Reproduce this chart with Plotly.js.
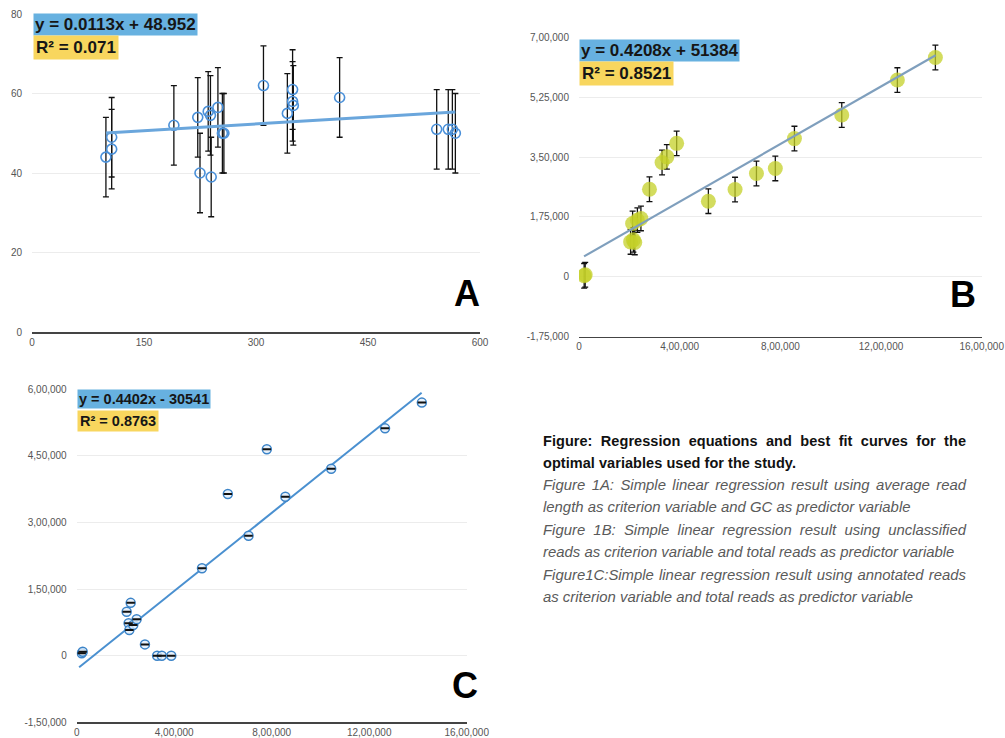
<!DOCTYPE html>
<html>
<head>
<meta charset="utf-8">
<script src="https://cdn.plot.ly/plotly-3.0.1.min.js"></script>
<style>
  html, body { margin: 0; padding: 0; background: #fff; }
  #chart { position: absolute; left: 0; top: 0; width: 1005px; height: 738px; }
  #caption { position: absolute; left: 543px; top: 430px; width: 423px; font-family: "Liberation Sans", Arial, sans-serif; }
  #caption div { white-space: nowrap; text-align: left; }
  #caption .j { text-align: justify; text-align-last: justify; }
  #caption .head { font-weight: bold; font-size: 14.5px; line-height: 22px; color: #111; letter-spacing: 0.05px; }
  #caption .it { font-style: italic; font-size: 14.9px; line-height: 22.4px; color: #5a5a5a; letter-spacing: 0px; }
</style>
</head>
<body>
<div id="chart"></div>
<div id="caption">
  <div class="head j">Figure: Regression equations and best fit curves for the</div>
  <div class="head">optimal variables used for the study.</div>
  <div class="it j">Figure 1A: Simple linear regression result using average read</div>
  <div class="it">length as criterion variable and GC as predictor variable</div>
  <div class="it j">Figure 1B: Simple linear regression result using unclassified</div>
  <div class="it">reads as criterion variable and total reads as predictor variable</div>
  <div class="it j">Figure1C:Simple linear regression result using annotated reads</div>
  <div class="it">as criterion variable and total reads as predictor variable</div>
</div>
<script>
// ---------- Panel A data ----------
const gcA  = [99, 106.7, 106.7, 190, 222, 225, 236, 239, 240, 249, 255, 257, 310, 342, 349, 349, 350, 412, 542, 557.5, 563, 567];
const lenA = [44, 49, 46, 52, 54, 40, 55.5, 54.5, 39, 56.5, 50, 50, 62, 55, 61, 58, 57, 59, 51, 51, 51, 50];
const errA = 10;
const trendAx = [99, 567];
const trendAy = [50.07, 55.36];
const ticksAx = [0, 150, 300, 450, 600];
const ticksAy = [0, 20, 40, 60, 80];

// ---------- Panels B & C data (shared total reads) ----------
const totalReads = [20500, 24600, 205000, 213000, 216000, 221500, 232000, 246000, 280000, 330000, 349000, 388000, 514000, 620000, 705000, 780000, 856000, 1044000, 1265000, 1416000];
const unclassB = [3000, 6000, 102000, 156000, 108000, 100500, 165600, 170600, 256000, 334000, 350600, 390000, 221000, 255000, 302000, 316700, 404000, 473000, 575000, 641000];
const errB = 36000;
const trendBx = [20000, 1417000];
const trendBy = [59800, 647700];
const annotC = [5300, 9000, 99000, 73000, 58000, 119000, 69000, 82000, 25500, 0, 0, 0, 197000, 364000, 270000, 465000, 358000, 421000, 512000, 570000];
const trendCx = [10000, 1415000];
const trendCy = [-26100, 592300];

const ticksBCx = [0, 400000, 800000, 1200000, 1600000];
const ticksBCxText = ['0', '4,00,000', '8,00,000', '12,00,000', '16,00,000'];
const ticksBy = [-175000, 0, 175000, 350000, 525000, 700000];
const ticksByText = ['-1,75,000', '0', '1,75,000', '3,50,000', '5,25,000', '7,00,000'];
const ticksCy = [-150000, 0, 150000, 300000, 450000, 600000];
const ticksCyText = ['-1,50,000', '0', '1,50,000', '3,00,000', '4,50,000', '6,00,000'];

// ---------- Equation labels ----------
const eqText = ['y = 0.0113x + 48.952', 'y = 0.4208x + 51384', 'y = 0.4402x - 30541'];
const r2Text = ['R² = 0.071', 'R² = 0.8521', 'R² = 0.8763'];
const panelLetters = ['A', 'B', 'C'];

const W = 1005, H = 738;
const px = v => v / W;
const py = v => 1 - v / H;
const FONT = '"Liberation Sans", Arial, sans-serif';

const traces = [
  {
    x: gcA, y: lenA, xaxis: 'x', yaxis: 'y', type: 'scatter', mode: 'markers',
    marker: { symbol: 'circle-open', size: 10, color: '#4a90d9', line: { width: 1.6, color: '#4a90d9' } },
    error_y: { type: 'constant', value: errA, color: '#111', thickness: 1.3, width: 3 }
  },
  {
    x: trendAx, y: trendAy, xaxis: 'x', yaxis: 'y', type: 'scatter', mode: 'lines',
    line: { color: '#6aa6dc', width: 3 }
  },
  {
    x: totalReads, y: unclassB, xaxis: 'x2', yaxis: 'y2', type: 'scatter', mode: 'markers',
    marker: { symbol: 'circle', size: 15, color: 'rgba(196,208,40,0.75)', line: { width: 0 } },
    error_y: { type: 'constant', value: errB, color: '#111', thickness: 1.3, width: 3 }
  },
  {
    x: trendBx, y: trendBy, xaxis: 'x2', yaxis: 'y2', type: 'scatter', mode: 'lines',
    line: { color: '#7f9fbd', width: 2.2 }
  },
  {
    x: trendCx, y: trendCy, xaxis: 'x3', yaxis: 'y3', type: 'scatter', mode: 'lines',
    line: { color: '#4a90d0', width: 2 }
  },
  {
    x: totalReads, y: annotC, xaxis: 'x3', yaxis: 'y3', type: 'scatter', mode: 'markers',
    marker: { symbol: 'circle', size: 9, color: 'rgba(225,238,250,0.8)', line: { width: 1.5, color: '#3c84c8' } }
  },
  {
    x: totalReads, y: annotC, xaxis: 'x3', yaxis: 'y3', type: 'scatter', mode: 'markers',
    marker: { symbol: 'line-ew', size: 6, line: { width: 2, color: '#111' } }
  }
];

const xBase = {
  showgrid: false, zeroline: false, showline: true, linecolor: '#444', linewidth: 1.5,
  ticks: '', tickfont: { family: FONT, size: 10, color: '#555' }, fixedrange: true
};
const yBase = {
  showgrid: true, gridcolor: '#ececec', gridwidth: 1, zeroline: false, showline: false,
  ticks: '', ticklabelstandoff: 9, tickfont: { family: FONT, size: 10, color: '#555' }, fixedrange: true
};

const annotations = [];
const boxes = [
  { x: 33, eqTop: 13, r2Top: 35, size: 17 },
  { x: 579, eqTop: 39, r2Top: 61, size: 17 },
  { x: 77, eqTop: 389, r2Top: 410, size: 14.5 }
];
boxes.forEach((b, i) => {
  annotations.push({
    xref: 'paper', yref: 'paper', x: px(b.x), y: py(b.eqTop), xanchor: 'left', yanchor: 'top',
    text: '<b>' + eqText[i] + '</b>', showarrow: false, bgcolor: '#67b1e0', borderpad: 1,
    font: { family: FONT, size: b.size, color: '#161616' }
  });
  annotations.push({
    xref: 'paper', yref: 'paper', x: px(b.x), y: py(b.r2Top), xanchor: 'left', yanchor: 'top',
    text: '<b>' + r2Text[i] + '</b>', showarrow: false, bgcolor: '#f8d65e', borderpad: 2,
    font: { family: FONT, size: b.size, color: '#161616' }
  });
});
const letterPos = [[467, 293], [963, 294], [465, 685]];
letterPos.forEach((p, i) => {
  annotations.push({
    xref: 'paper', yref: 'paper', x: px(p[0]), y: py(p[1]), xanchor: 'center', yanchor: 'middle',
    text: '<b>' + panelLetters[i] + '</b>', showarrow: false,
    font: { family: FONT, size: 36, color: '#000' }
  });
});

const layout = {
  width: W, height: H, margin: { l: 0, r: 0, t: 0, b: 0 },
  paper_bgcolor: '#fff', plot_bgcolor: '#fff', showlegend: false,
  xaxis: Object.assign({}, xBase, { domain: [px(32), px(480)], range: [0, 600], tickvals: ticksAx, anchor: 'y' }),
  yaxis: Object.assign({}, yBase, { domain: [py(332), py(14)], range: [0, 80], tickvals: ticksAy, anchor: 'x' }),
  xaxis2: Object.assign({}, xBase, { domain: [px(579), px(981.7)], range: [0, 1600000], tickvals: ticksBCx, ticktext: ticksBCxText, anchor: 'y2' }),
  yaxis2: Object.assign({}, yBase, { domain: [py(336.7), py(37.3)], range: [-175000, 700000], tickvals: ticksBy, ticktext: ticksByText, anchor: 'x2' }),
  xaxis3: Object.assign({}, xBase, { domain: [px(76.7), px(466.7)], range: [0, 1600000], tickvals: ticksBCx, ticktext: ticksBCxText, anchor: 'y3' }),
  yaxis3: Object.assign({}, yBase, { domain: [py(722.3), py(389.3)], range: [-150000, 600000], tickvals: ticksCy, ticktext: ticksCyText, anchor: 'x3' }),
  annotations: annotations
};

Plotly.newPlot('chart', traces, layout, { displayModeBar: false, staticPlot: true });
</script>
</body>
</html>
